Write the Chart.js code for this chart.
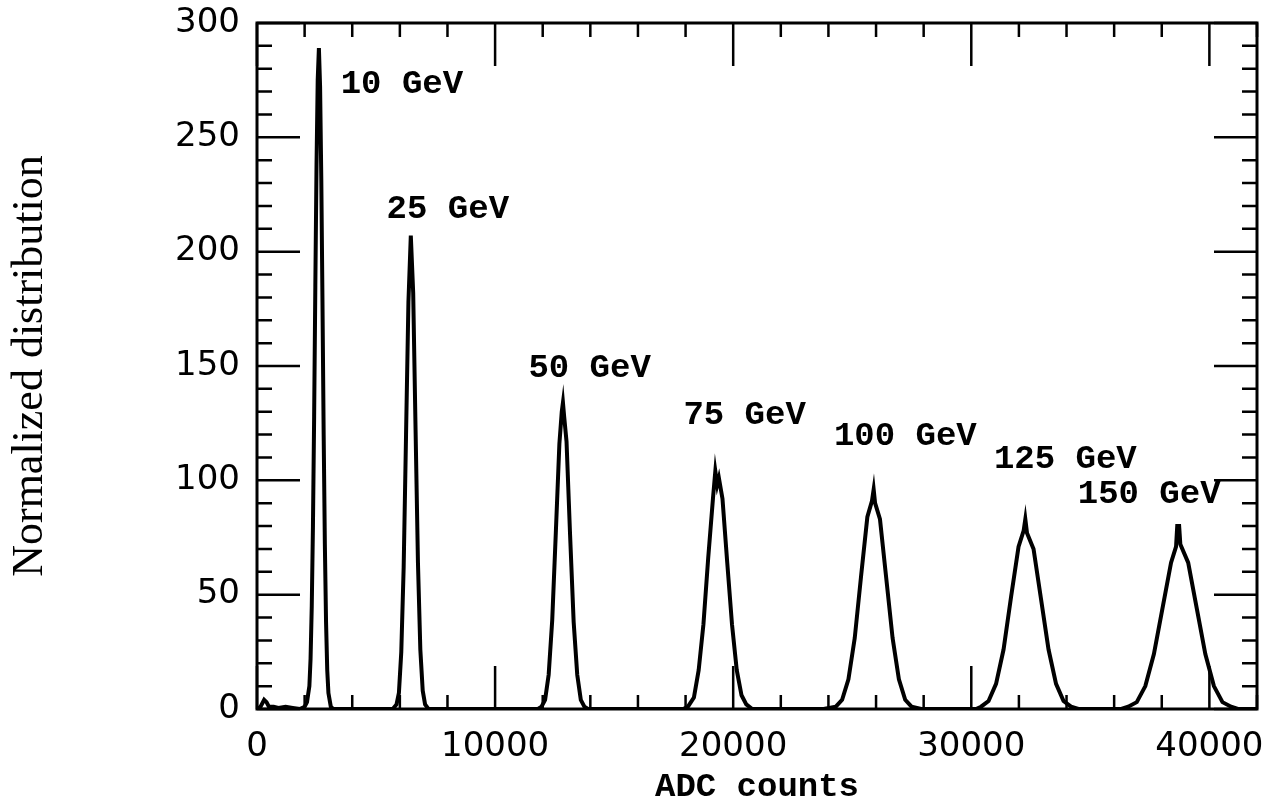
<!DOCTYPE html>
<html>
<head>
<meta charset="utf-8">
<title>ADC counts - normalized distribution</title>
<script src="https://cdn.jsdelivr.net/npm/chart.js@4.4.1/dist/chart.umd.min.js"></script>
<style>
    html, body { margin: 0; padding: 0; background: #fff; }
    #adcChart { display: block; }
</style>
</head>
<body>
<canvas id="adcChart" width="1286" height="812"></canvas>
<script>
// Values (ADC counts / normalized distribution)

// pedestal noise near zero
const adcNoise  = [0, 150, 300, 400, 500, 700, 900, 1200, 1500, 1800];
const distNoise = [0, 1, 4, 3, 1, 1, 0.5, 1, 0.5, 0];

// 10 GeV
const adc10  = [2000, 2100, 2200, 2250, 2300, 2350, 2400, 2450, 2500, 2550, 2600, 2650, 2700, 2750, 2800, 2850, 2900, 2950, 3000, 3100, 3200];
const dist10 = [1, 3, 10, 22, 45, 80, 128, 185, 238, 275, 289, 272, 232, 178, 120, 72, 38, 17, 7, 1, 0];

// 25 GeV
const adc25  = [5700, 5860, 5960, 6060, 6160, 6260, 6360, 6460, 6560, 6660, 6760, 6860, 6960, 7060, 7200];
const dist25 = [0, 2, 7, 25, 62, 120, 178, 207, 182, 122, 64, 26, 8, 2, 0];

// 50 GeV
const adc50  = [11800, 11950, 12100, 12250, 12400, 12550, 12700, 12800, 12850, 12900, 13000, 13150, 13300, 13450, 13600, 13750, 13900];
const dist50 = [0, 1, 4, 15, 39, 77, 116, 130, 134, 128, 117, 76, 38, 15, 4, 1, 0];

// 75 GeV
const adc75  = [17900, 18100, 18350, 18550, 18750, 18950, 19150, 19250, 19330, 19400, 19550, 19750, 19950, 20150, 20350, 20550, 20800];
const dist75 = [0, 1, 5, 17, 37, 66, 92, 104, 98, 101, 92, 64, 37, 17, 6, 2, 0];

// 100 GeV
const adc100  = [23800, 24310, 24575, 24840, 25105, 25370, 25635, 25830, 25900, 25960, 26165, 26430, 26695, 26960, 27225, 27490, 27900];
const dist100 = [0, 1, 4, 13, 31, 58, 84, 91, 96, 90, 83, 57, 31, 13, 4, 1, 0];

// 125 GeV
const adc125  = [30200, 30410, 30725, 31040, 31355, 31670, 31985, 32200, 32270, 32340, 32615, 32930, 33245, 33560, 33875, 34190, 34500];
const dist125 = [0, 1, 3.5, 11, 26, 49, 71, 78, 83, 77, 70, 48, 26, 11, 3.5, 1, 0];

// 150 GeV
const adc150  = [36300, 36590, 36950, 37310, 37670, 38030, 38390, 38600, 38650, 38730, 38780, 39110, 39470, 39830, 40190, 40550, 40910, 41200, 42000];
const dist150 = [0, 1, 3, 10, 24, 44, 64, 71, 80, 80, 72, 64, 44, 24, 10, 3, 1, 0, 0];

// peak labels
const peakNames  = ['10 GeV', '25 GeV', '50 GeV', '75 GeV', '100 GeV', '125 GeV', '150 GeV'];
const peakLabelX = [6085, 8015, 13970, 20480, 27230, 33950, 37470];
const peakLabelY = [273, 218.6, 149, 128.5, 119, 109, 94];

// axis ticks
const xTickValues = [0, 10000, 20000, 30000, 40000];
const yTickValues = [0, 50, 100, 150, 200, 250, 300];
const xMax = 42000;
const xMajorStep = 10000;
const xMinorStep = 2000;
const yMax = 300;
const yMajorStep = 50;
const yMinorStep = 10;

function toPoints(xs, ys) {
    return xs.map((x, i) => ({ x: x, y: ys[i] }));
}

const histogramPoints = [].concat(
    toPoints(adcNoise, distNoise),
    toPoints(adc10, dist10),
    toPoints(adc25, dist25),
    toPoints(adc50, dist50),
    toPoints(adc75, dist75),
    toPoints(adc100, dist100),
    toPoints(adc125, dist125),
    toPoints(adc150, dist150)
);

// Frame with inward ticks on all four sides, like the original plot
const frameTicksPlugin = {
    id: 'frameTicks',
    afterDatasetsDraw(chart) {
        const ctx = chart.ctx;
        const area = chart.chartArea;
        const xs = chart.scales.x;
        const ys = chart.scales.y;
        ctx.save();
        ctx.strokeStyle = '#000';
        ctx.lineWidth = 2.5;
        ctx.lineCap = 'butt';

        // x ticks (bottom and top)
        for (let v = 0; v <= xMax; v += xMinorStep) {
            const px = xs.getPixelForValue(v);
            const len = (v % xMajorStep === 0) ? 43 : 14;
            ctx.beginPath();
            ctx.moveTo(px, area.bottom);
            ctx.lineTo(px, area.bottom - len);
            ctx.moveTo(px, area.top);
            ctx.lineTo(px, area.top + len);
            ctx.stroke();
        }

        // y ticks (left and right)
        for (let v = 0; v <= yMax; v += yMinorStep) {
            const py = ys.getPixelForValue(v);
            const len = (v % yMajorStep === 0) ? 43 : 15;
            ctx.beginPath();
            ctx.moveTo(area.left, py);
            ctx.lineTo(area.left + len, py);
            ctx.moveTo(area.right, py);
            ctx.lineTo(area.right - len, py);
            ctx.stroke();
        }

        // frame
        ctx.lineWidth = 3;
        ctx.strokeRect(area.left, area.top, area.right - area.left, area.bottom - area.top);

        // peak labels
        ctx.fillStyle = '#000';
        ctx.font = 'bold 34px "Liberation Mono", "DejaVu Sans Mono", monospace';
        ctx.textAlign = 'center';
        ctx.textBaseline = 'middle';
        peakNames.forEach((name, i) => {
            ctx.fillText(name, xs.getPixelForValue(peakLabelX[i]), ys.getPixelForValue(peakLabelY[i]));
        });
        ctx.restore();
    }
};

document.addEventListener('DOMContentLoaded', function() {
    const ctx = document.getElementById('adcChart').getContext('2d');

    const config = {
        type: 'scatter',
        data: {
            datasets: [{
                label: 'Normalized distribution',
                data: histogramPoints,
                showLine: true,
                borderColor: '#000',
                backgroundColor: '#000',
                borderWidth: 4,
                pointRadius: 0,
                tension: 0
            }]
        },
        options: {
            responsive: false,
            animation: false,
            devicePixelRatio: 1,
            layout: {
                padding: { left: 0, top: 23, right: 29, bottom: 0 }
            },
            plugins: {
                legend: { display: false },
                tooltip: { enabled: false }
            },
            scales: {
                x: {
                    type: 'linear',
                    min: 0,
                    max: xMax,
                    afterBuildTicks: function(scale) {
                        scale.ticks = xTickValues.map(v => ({ value: v }));
                    },
                    afterFit: function(scale) {
                        scale.height = 103;
                        scale.paddingLeft = 0;
                        scale.paddingRight = 0;
                    },
                    border: { display: false },
                    grid: { display: false, drawTicks: false },
                    ticks: {
                        autoSkip: false,
                        maxRotation: 0,
                        padding: 18,
                        color: '#000',
                        font: { family: '"DejaVu Sans", sans-serif', size: 34 },
                        callback: function(v) { return String(v); }
                    },
                    title: {
                        display: true,
                        text: 'ADC counts',
                        color: '#000',
                        padding: { top: 0, bottom: 4 },
                        font: { family: '"Liberation Mono", "DejaVu Sans Mono", monospace', size: 34, weight: 'bold' }
                    }
                },
                y: {
                    type: 'linear',
                    min: 0,
                    max: yMax,
                    afterBuildTicks: function(scale) {
                        scale.ticks = yTickValues.map(v => ({ value: v }));
                    },
                    afterFit: function(scale) {
                        scale.width = 257;
                        scale.paddingTop = 0;
                        scale.paddingBottom = 0;
                    },
                    border: { display: false },
                    grid: { display: false, drawTicks: false },
                    ticks: {
                        padding: 17,
                        color: '#000',
                        font: { family: '"DejaVu Sans", sans-serif', size: 34 },
                        callback: function(v) { return String(v); }
                    },
                    title: {
                        display: true,
                        text: 'Normalized distribution',
                        color: '#000',
                        padding: { top: 4, bottom: 0 },
                        font: { family: '"Liberation Serif", serif', size: 44 }
                    }
                }
            }
        },
        plugins: [frameTicksPlugin]
    };

    new Chart(ctx, config);
});
</script>
</body>
</html>
